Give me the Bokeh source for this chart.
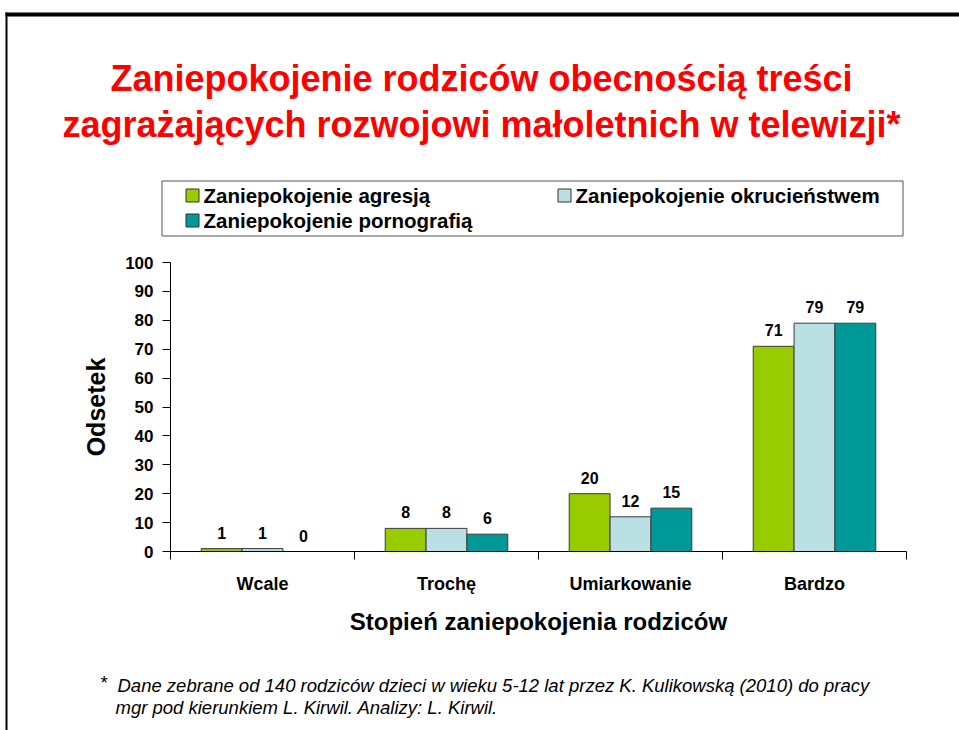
from bokeh.plotting import figure
from bokeh.models import (Range1d, FixedTicker, LabelSet, ColumnDataSource, LinearAxis, Grid)
from bokeh.core.properties import value
from bokeh.transform import dodge
from bokeh.embed import file_html
from bokeh.resources import INLINE
import numpy as np

# ---------------- data ----------------
categories = ["Wcale", "Trochę", "Umiarkowanie", "Bardzo"]
series_names = ["Zaniepokojenie agresją", "Zaniepokojenie okrucieństwem",
                "Zaniepokojenie pornografią"]
agresja = [1, 8, 20, 71]
okrucienstwo = [1, 8, 12, 79]
pornografia = [0, 6, 15, 79]
y_ticks = [0, 10, 20, 30, 40, 50, 60, 70, 80, 90, 100]

title_lines = ["Zaniepokojenie rodziców obecnością treści",
               "zagrażających rozwojowi małoletnich w telewizji*"]
x_title = "Stopień zaniepokojenia rodziców"
y_title = "Odsetek"
footnote = ["Dane zebrane od 140 rodziców dzieci w wieku 5-12 lat przez K. Kulikowską (2010) do pracy",
            "mgr pod kierunkiem L. Kirwil. Analizy: L. Kirwil."]

colors = ["#99CC00", "#BBE0E3", "#009999"]
FONT = "Liberation Sans"

# ---------------- page geometry (pixels) ----------------
PW, PH = 959, 730
FX0, FX1, FY0, FY1 = 170, 906, 551, 262   # plot area on the page
NCAT = len(categories)
YMAX = 100

kx = (FX1 - FX0) / NCAT
ky = (FY0 - FY1) / YMAX
x_range = Range1d(-FX0 / kx, NCAT + (PW - FX1) / kx)
y_range = Range1d(-(PH - FY0) / ky, YMAX + FY1 / ky)

p = figure(width=PW, height=PH, output_backend="svg", toolbar_location=None,
           x_range=x_range, y_range=y_range,
           x_axis_location=None, y_axis_location=None)
p.min_border = 0
p.outline_line_color = None
p.background_fill_color = "white"
p.border_fill_color = "white"
p.extra_x_ranges = {"page": Range1d(0, PW)}
p.extra_y_ranges = {"page": Range1d(PH, 0)}
PG = dict(x_range_name="page", y_range_name="page")

# ---------------- slide border ----------------
p.quad(left=[5, 5], right=[PW, 7], top=[12, 12], bottom=[16, PH],
       fill_color="black", line_color=None, **PG)

# ---------------- title ----------------
p.text(x=[481, 481], y=[78, 124], text=title_lines, text_align="center",
       text_baseline="middle", text_font=value(FONT), text_font_style="bold",
       text_font_size="36px", text_color="#FF0000", **PG)

# ---------------- legend ----------------
p.quad(left=[161.5], right=[902.5], top=[180.5], bottom=[235.5], fill_color="white",
       line_color="#555555", line_width=1, **PG)
leg_x = [185, 557, 185]
leg_y = [195, 195, 220]
p.quad(left=[x + 0.5 for x in leg_x], right=[x + 13.5 for x in leg_x],
       top=[y - 6.5 for y in leg_y], bottom=[y + 6.5 for y in leg_y],
       fill_color=colors, line_color="#333333", line_width=1, **PG)
p.text(x=[x + 18 for x in leg_x], y=leg_y, text=series_names, text_align="left",
       text_baseline="middle", text_font=value(FONT), text_font_style="bold",
       text_font_size="20.5px", text_color="black", **PG)

# ---------------- bars ----------------
centers = list(np.arange(NCAT) + 0.5)
src = ColumnDataSource(dict(x=centers, cat=categories, a=agresja, o=okrucienstwo,
                            p=pornografia,
                            la=[str(v) for v in agresja],
                            lo=[str(v) for v in okrucienstwo],
                            lp=[str(v) for v in pornografia]))
bw = 0.222
fields = ["a", "o", "p"]
lfields = ["la", "lo", "lp"]
offsets = [-bw, 0, bw]
for f, lf, off, c in zip(fields, lfields, offsets, colors):
    p.vbar(x=dodge("x", off, range=p.x_range), top=f, width=bw, source=src,
           fill_color=c, line_color="#3a3a3a", line_width=1)
    p.add_layout(LabelSet(x=dodge("x", off, range=p.x_range), y=f, text=lf, source=src,
                          text_align="center", text_baseline="alphabetic", y_offset=10,
                          text_font=value(FONT), text_font_style="bold",
                          text_font_size="16px", text_color="black"))

# ---------------- axes ----------------
xa = LinearAxis(fixed_location=0, bounds=(0, NCAT))
xa.ticker = FixedTicker(ticks=centers, minor_ticks=list(range(NCAT + 1)))
xa.major_label_overrides = {c: cat for c, cat in zip(centers, categories)}
xa.major_tick_out = 0
xa.major_tick_in = 0
xa.minor_tick_out = 8
xa.minor_tick_in = 0
xa.minor_tick_line_color = "black"
xa.axis_line_color = "black"
xa.major_label_standoff = 14
xa.major_label_text_font = FONT
xa.major_label_text_font_style = "bold"
xa.major_label_text_font_size = "18px"
xa.major_label_text_color = "black"
xa.axis_label = x_title
xa.axis_label_text_font = FONT
xa.axis_label_text_font_style = "bold"
xa.axis_label_text_font_size = "24px"
xa.axis_label_text_color = "black"
xa.axis_label_standoff = 11
p.add_layout(xa, "below")

ya = LinearAxis(fixed_location=0, bounds=(0, YMAX))
ya.ticker = FixedTicker(ticks=y_ticks, minor_ticks=[])
ya.major_tick_out = 8
ya.major_tick_in = 0
ya.axis_line_color = "black"
ya.major_tick_line_color = "black"
ya.major_label_standoff = 9
ya.major_label_text_font = FONT
ya.major_label_text_font_style = "bold"
ya.major_label_text_font_size = "17px"
ya.major_label_text_color = "black"
ya.axis_label = y_title
ya.axis_label_text_font = FONT
ya.axis_label_text_font_style = "bold"
ya.axis_label_text_font_size = "25px"
ya.axis_label_text_color = "black"
ya.axis_label_standoff = 12
p.add_layout(ya, "left")

# no grid lines
for r in p.select(type=Grid):
    r.visible = False
    r.grid_line_color = None

# ---------------- footnote ----------------
p.text(x=[100], y=[682], text=["*"], text_align="left", text_baseline="middle",
       text_font=value(FONT), text_font_size="19px", text_color="black", **PG)
p.text(x=[117, 115], y=[685, 707], text=footnote, text_align="left",
       text_baseline="middle", text_font=value(FONT), text_font_style="italic",
       text_font_size="18.5px", text_color="black", **PG)

open("out.html", "w").write(file_html(p, INLINE))
